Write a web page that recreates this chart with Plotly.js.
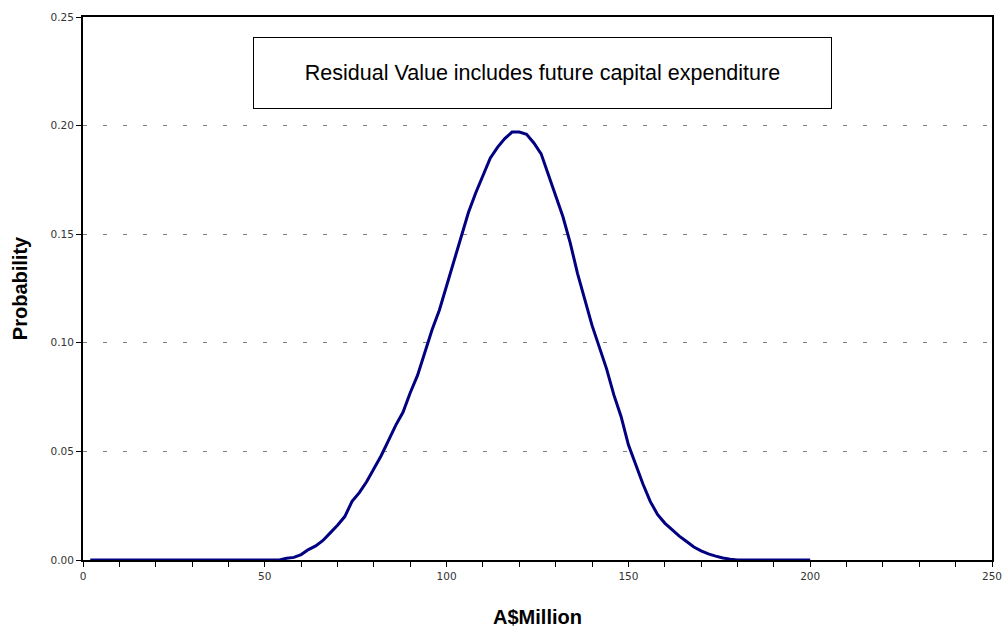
<!DOCTYPE html>
<html>
<head>
<meta charset="utf-8">
<script src="https://cdn.plot.ly/plotly-3.0.1.min.js"></script>
<style>html,body{margin:0;padding:0;background:#fff;}#chart{width:1005px;height:633px;}</style>
</head>
<body>
<div id="chart"></div>
<script>
const xValues = [2, 10, 20, 30, 40, 50, 54, 56, 58, 60, 62, 64, 66, 68, 70, 72, 74, 76, 78, 80,
  82, 84, 86, 88, 90, 92, 94, 96, 98, 100, 102, 104, 106, 108, 110, 112, 114, 116, 118, 120,
  122, 124, 126, 128, 130, 132, 134, 136, 138, 140, 142, 144, 146, 148, 150, 152, 154, 156, 158, 160,
  162, 164, 166, 168, 170, 172, 174, 176, 178, 180, 190, 200];
const probValues = [0, 0, 0, 0, 0, 0, 0, 0.0008, 0.0012, 0.0025, 0.0048, 0.0065, 0.009, 0.0125, 0.016, 0.020, 0.027, 0.031, 0.036, 0.042,
  0.048, 0.055, 0.062, 0.068, 0.077, 0.085, 0.096, 0.106, 0.115, 0.126, 0.137, 0.149, 0.160, 0.169, 0.177, 0.185, 0.190, 0.194, 0.197, 0.197,
  0.196, 0.192, 0.187, 0.177, 0.167, 0.158, 0.146, 0.132, 0.120, 0.108, 0.098, 0.088, 0.076, 0.066, 0.053, 0.044, 0.035, 0.027, 0.021, 0.017,
  0.014, 0.011, 0.0085, 0.006, 0.0042, 0.0028, 0.0018, 0.0009, 0.0004, 0, 0, 0];
const noteText = "Residual Value includes future capital expenditure";
const xTitle = "A$Million";
const yTitle = "Probability";

const trace = {
  x: xValues, y: probValues, type: 'scatter', mode: 'lines',
  line: {color: '#000080', width: 3, shape: 'linear'},
  hoverinfo: 'skip', showlegend: false
};

const layout = {
  width: 1005, height: 633,
  margin: {l: 83, r: 13, t: 17, b: 73},
  paper_bgcolor: '#fff', plot_bgcolor: '#fff',
  font: {family: 'Liberation Sans, Arial, sans-serif', color: '#222'},
  xaxis: {
    range: [0, 250], dtick: 50, tick0: 0,
    ticks: 'outside', ticklen: 5, tickwidth: 1, tickcolor: '#000',
    minor: {dtick: 10, ticks: 'outside', ticklen: 5, tickwidth: 1, tickcolor: '#000', showgrid: false},
    showgrid: false, zeroline: false,
    showline: true, linecolor: '#000', linewidth: 2, mirror: true,
    tickfont: {family: 'DejaVu Sans, sans-serif', size: 10.5, color: '#333'},
    title: {text: xTitle, font: {size: 20, color: '#000', weight: 'bold'}, standoff: 29}
  },
  yaxis: {
    range: [0, 0.25], dtick: 0.05, tick0: 0, tickformat: '.2f',
    ticks: 'outside', ticklen: 5, tickwidth: 1, tickcolor: '#000',
    showgrid: true, gridcolor: '#808080', gridwidth: 1, griddash: '4px,16px',
    zeroline: false,
    showline: true, linecolor: '#000', linewidth: 2, mirror: true,
    tickfont: {family: 'DejaVu Sans, sans-serif', size: 10.5, color: '#333'},
    title: {text: yTitle, font: {size: 20, color: '#000', weight: 'bold'}, standoff: 18}
  },
  annotations: [{
    xref: 'paper', yref: 'paper', x: 0.5055, y: 0.897,
    xanchor: 'center', yanchor: 'middle',
    text: noteText, showarrow: false,
    font: {size: 21.5, color: '#000'},
    width: 577, height: 70, align: 'center', valign: 'middle',
    bordercolor: '#000', borderwidth: 1, borderpad: 0, bgcolor: '#fff'
  }]
};

Plotly.newPlot('chart', [trace], layout, {staticPlot: true, displayModeBar: false});
</script>
</body>
</html>
